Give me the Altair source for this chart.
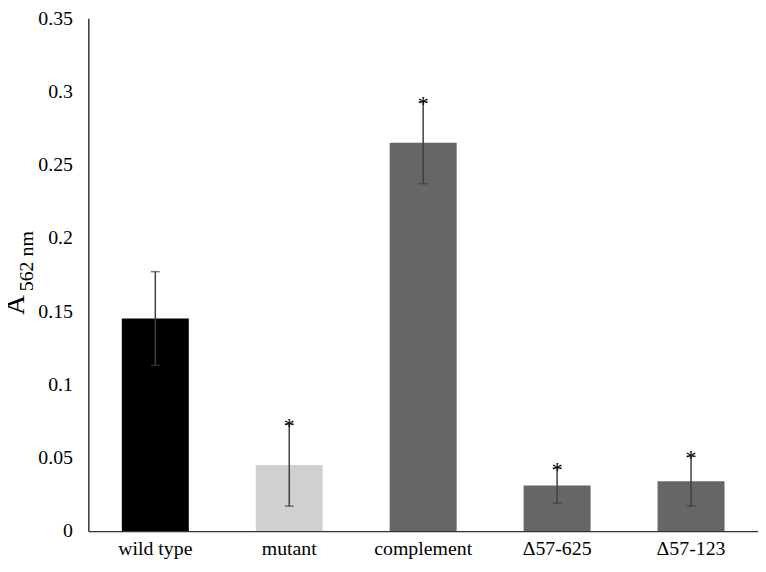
import altair as alt
import pandas as pd

categories = ["wild type", "mutant", "complement", "\u039457-625", "\u039457-123"]
means = [0.145, 0.045, 0.265, 0.031, 0.034]
errors = [0.032, 0.028, 0.028, 0.012, 0.017]
significant = [False, True, True, True, True]
bar_colors = ["#000000", "#d0d0d0", "#666666", "#666666", "#666666"]

df = pd.DataFrame({
    "cat": categories,
    "mean": means,
    "err": errors,
    "sig": significant,
    "color": bar_colors,
})
df["lo"] = df["mean"] - df["err"]
df["hi"] = df["mean"] + df["err"]
df["star"] = ["*" if s else "" for s in df["sig"]]

FONT = "'Liberation Serif', 'Times New Roman', 'DejaVu Serif', serif"

x = alt.X("cat:N", sort=categories, title=None,
          scale=alt.Scale(paddingInner=0.5, paddingOuter=0.25),
          axis=alt.Axis(labelAngle=0, labelFontSize=20, labelFont=FONT, labelColor="#000",
                        ticks=False, domainColor="#333", domainWidth=1.2, labelPadding=8))
y_scale = alt.Scale(domain=[0, 0.35], nice=False, zero=True)

base = alt.Chart(df)

bars = base.mark_bar().encode(
    x=x,
    y=alt.Y("mean:Q", scale=y_scale, title=None,
            axis=alt.Axis(values=[0, 0.05, 0.1, 0.15, 0.2, 0.25, 0.3, 0.35], format=".2~f",
                          grid=False, ticks=False, labelFontSize=20, labelFont=FONT,
                          labelColor="#000", domainColor="#000", domainWidth=1.2,
                          labelPadding=16)),
    color=alt.Color("color:N", scale=None),
)

rules = base.mark_rule(color="#404040", strokeWidth=1.5).encode(
    x=alt.X("cat:N", sort=categories),
    y=alt.Y("lo:Q", scale=y_scale),
    y2="hi:Q",
)
caps_hi = base.mark_tick(color="#404040", orient="horizontal", size=9, thickness=1.5).encode(
    x=alt.X("cat:N", sort=categories),
    y=alt.Y("hi:Q", scale=y_scale),
)
caps_lo = base.mark_tick(color="#404040", orient="horizontal", size=9, thickness=1.5).encode(
    x=alt.X("cat:N", sort=categories),
    y=alt.Y("lo:Q", scale=y_scale),
)
stars = base.mark_text(font=FONT, fontSize=22, baseline="alphabetic", dy=9, color="#000").encode(
    x=alt.X("cat:N", sort=categories),
    y=alt.Y("hi:Q", scale=y_scale),
    text="star:N",
)

ytitle_a = alt.Chart(pd.DataFrame({"t": ["A"]})).mark_text(
    font=FONT, fontSize=28, angle=270, align="center", baseline="middle", color="#000"
).encode(x=alt.value(-73), y=alt.value(289), text="t:N")
ytitle_sub = alt.Chart(pd.DataFrame({"t": ["562 nm"]})).mark_text(
    font=FONT, fontSize=20, angle=270, align="center", baseline="middle", color="#000"
).encode(x=alt.value(-62), y=alt.value(245), text="t:N")

chart = alt.layer(bars, rules, caps_hi, caps_lo, stars, ytitle_a, ytitle_sub).properties(
    width=675, height=517,
    autosize=alt.AutoSizeParams(type="none"),
    padding={"left": 81, "top": 8, "right": 0, "bottom": 31},
).configure_view(stroke=None)

chart.save("out.html", embed_options={"renderer": "svg", "actions": False})
